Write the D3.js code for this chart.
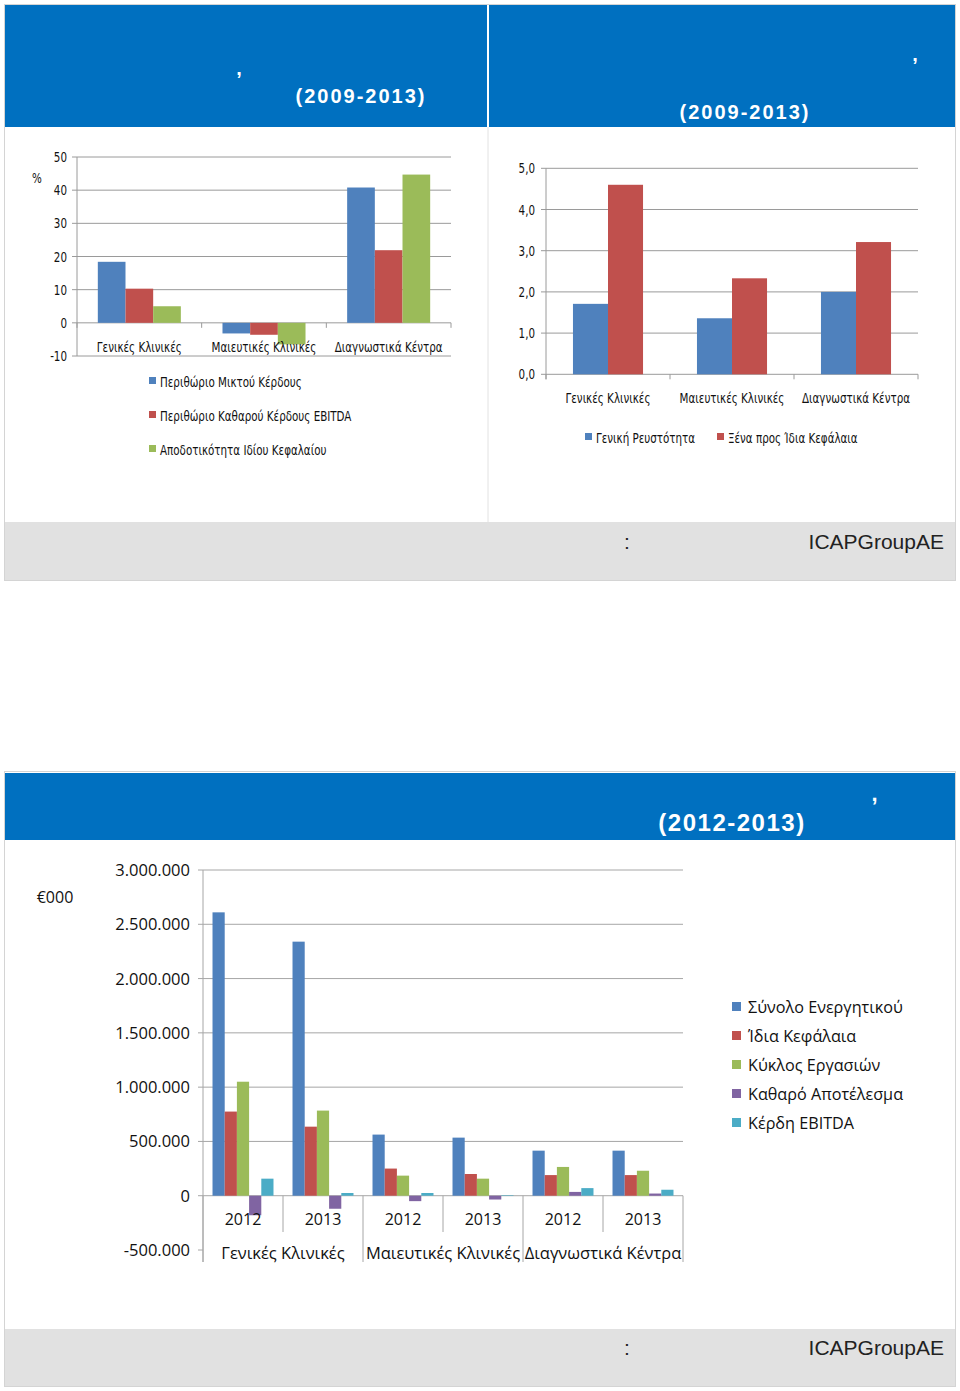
<!DOCTYPE html>
<html><head><meta charset="utf-8">
<script src="https://cdn.jsdelivr.net/npm/d3@7"></script>
<style>
body{margin:0;background:#fff;}
.narrow{font-family:"DejaVu Sans Condensed","DejaVu Sans",sans-serif;}
.os{font-family:"Open Sans","Noto Sans",sans-serif;}
</style></head>
<body>
<svg id="c" width="960" height="1391"></svg>
<script>
// ---------- DATA ----------
const categories = ["Γενικές Κλινικές","Μαιευτικές Κλινικές","Διαγνωστικά Κέντρα"];
// Chart 1 (%)
const series1 = ["Περιθώριο Μικτού Κέρδους","Περιθώριο Καθαρού Κέρδους EBITDA","Αποδοτικότητα Ιδίου Κεφαλαίου"];
const grossMargin = [18.4, -3.2, 40.8];
const ebitdaMargin = [10.3, -3.6, 21.9];
const roe = [5.0, -6.5, 44.7];
const ticks1 = [-10,0,10,20,30,40,50];
// Chart 2 (ratios)
const series2 = ["Γενική Ρευστότητα","Ξένα προς Ίδια Κεφάλαια"];
const liquidity = [1.71, 1.36, 2.0];
const debtToEquity = [4.6, 2.33, 3.21];
const ticks2 = [0,1,2,3,4,5];
const ticks2Labels = ["0,0","1,0","2,0","3,0","4,0","5,0"];
// Chart 3 (€000)
const years = ["2012","2013"];
const series3 = ["Σύνολο Ενεργητικού","Ίδια Κεφάλαια","Κύκλος Εργασιών","Καθαρό Αποτέλεσμα","Κέρδη EBITDA"];
// values per [category][year]
const totalAssets = [[2610000,2340000],[563000,535000],[415000,415000]];
const equity = [[775000,636000],[250000,200000],[190000,190000]];
const turnover = [[1050000,784000],[185000,157000],[265000,230000]];
const netResult = [[-180000,-120000],[-50000,-35000],[35000,20000]];
const ebitda = [[157000,25000],[25000,5000],[70000,55000]];
const ticks3 = [-500000,0,500000,1000000,1500000,2000000,2500000,3000000];
const ticks3Labels = ["-500.000","0","500.000","1.000.000","1.500.000","2.000.000","2.500.000","3.000.000"];

const colors = ["#4F81BD","#C0504D","#9BBB59","#8064A2","#4BACC6"];
const BLUE = "#0070C0", GRAY = "#E1E1E1", GRID = "#9a9a9a", BORDER="#d4d4d4";
const SX = 0.82;

const svg = d3.select("#c");
svg.append("rect").attr("width",960).attr("height",1391).attr("fill","#fff");

// narrow text helper (horizontally condensed)
function ntext(g,x,y,t,anchor,size){
  return g.append("text").attr("class","narrow")
    .attr("transform",`translate(${x},${y}) scale(${SX},1)`)
    .attr("text-anchor",anchor||"start").attr("font-size",size||14).attr("fill","#111").text(t);
}

// ---------- TOP FRAME ----------
svg.append("rect").attr("x",4.5).attr("y",4.5).attr("width",951).attr("height",576)
  .attr("fill","#fff").attr("stroke",BORDER);
svg.append("rect").attr("x",5).attr("y",5).attr("width",482).attr("height",122).attr("fill",BLUE);
svg.append("rect").attr("x",489).attr("y",5).attr("width",466).attr("height",122).attr("fill",BLUE);
svg.append("line").attr("x1",488).attr("x2",488).attr("y1",127).attr("y2",522).attr("stroke","#e2e2e2");
svg.append("rect").attr("x",5).attr("y",522).attr("width",950).attr("height",58).attr("fill",GRAY);

function titleText(x,y,t,anchor,size,ls){
  svg.append("text").attr("x",x).attr("y",y).attr("text-anchor",anchor||"middle")
    .attr("font-family","Liberation Sans, Arial, sans-serif").attr("font-weight","bold")
    .attr("font-size",size||20).attr("letter-spacing",ls===undefined?2:ls).attr("fill","#fff").text(t);
}
titleText(240,75,",","middle");
titleText(361,103,"(2009-2013)","middle");
titleText(916,61,",","middle");
titleText(745,119,"(2009-2013)","middle");

function footer(y){
  svg.append("text").attr("x",627).attr("y",y).attr("text-anchor","middle")
    .attr("font-family","Liberation Sans, Arial, sans-serif").attr("font-size",21).attr("fill","#222").text(":");
  svg.append("text").attr("x",944).attr("y",y).attr("text-anchor","end")
    .attr("font-family","Liberation Sans, Arial, sans-serif").attr("font-size",21).attr("fill","#222").text("ICAPGroupAE");
}
footer(549);

// ---------- CHART 1 ----------
{
  const y = d3.scaleLinear().domain([-10,50]).range([356,157]);
  const x = d3.scaleBand().domain(categories).range([77,451]).paddingInner(0.334).paddingOuter(0.167);
  const xs = d3.scaleBand().domain(series1).range([0,x.bandwidth()]);
  const data = [grossMargin, ebitdaMargin, roe];
  const g = svg.append("g");
  g.selectAll(".grid").data(ticks1).join("line")
    .attr("x1",72).attr("x2",451).attr("y1",d=>y(d)).attr("y2",d=>y(d)).attr("stroke",GRID);
  g.append("line").attr("x1",77).attr("x2",77).attr("y1",y(50)).attr("y2",y(-10)).attr("stroke",GRID);
  series1.forEach((s,si)=>{
    g.selectAll(".b"+si).data(categories).join("rect")
      .attr("x",c=>x(c)+xs(s)).attr("width",xs.bandwidth())
      .attr("y",(c,i)=>y(Math.max(0,data[si][i])))
      .attr("height",(c,i)=>Math.abs(y(data[si][i])-y(0)))
      .attr("fill",colors[si]);
  });
  const bounds=[77,77+x.step(),77+2*x.step(),451];
  g.selectAll(".ct").data(bounds).join("line").attr("x1",d=>d).attr("x2",d=>d)
    .attr("y1",y(0)).attr("y2",y(0)+5).attr("stroke",GRID);
  ticks1.forEach(d=>ntext(g,67,y(d)+5,d,"end",14));
  ntext(g,37,183,"%","middle",14);
  categories.forEach(c=>ntext(g,x(c)+x.bandwidth()/2,352,c,"middle",14));
  series1.forEach((s,i)=>{
    const yy=[382,416,450][i];
    g.append("rect").attr("x",149).attr("y",yy-5).attr("width",7).attr("height",7).attr("fill",colors[i]);
    ntext(g,160,yy+5,s,"start",14);
  });
}

// ---------- CHART 2 ----------
{
  const y = d3.scaleLinear().domain([0,5]).range([374.3,168.3]);
  const x = d3.scaleBand().domain(categories).range([546,918]).paddingInner(0.435).paddingOuter(0.2175);
  const xs = d3.scaleBand().domain(series2).range([0,x.bandwidth()]);
  const data = [liquidity, debtToEquity];
  const g = svg.append("g");
  g.selectAll(".grid").data(ticks2).join("line")
    .attr("x1",541).attr("x2",918).attr("y1",d=>y(d)).attr("y2",d=>y(d)).attr("stroke",GRID);
  g.append("line").attr("x1",546).attr("x2",546).attr("y1",y(5)).attr("y2",y(0)+5).attr("stroke",GRID);
  series2.forEach((s,si)=>{
    g.selectAll(".b"+si).data(categories).join("rect")
      .attr("x",c=>x(c)+xs(s)).attr("width",xs.bandwidth())
      .attr("y",(c,i)=>y(data[si][i])).attr("height",(c,i)=>y(0)-y(data[si][i]))
      .attr("fill",colors[si]);
  });
  const bounds=[546,546+x.step(),546+2*x.step(),918];
  g.selectAll(".ct").data(bounds).join("line").attr("x1",d=>d).attr("x2",d=>d)
    .attr("y1",y(0)).attr("y2",y(0)+5).attr("stroke",GRID);
  ticks2.forEach((d,i)=>ntext(g,535,y(d)+5,ticks2Labels[i],"end",14));
  categories.forEach(c=>ntext(g,x(c)+x.bandwidth()/2,403,c,"middle",14));
  const lx=[585,717], tx=[596,728];
  series2.forEach((s,i)=>{
    g.append("rect").attr("x",lx[i]).attr("y",433).attr("width",7).attr("height",7).attr("fill",colors[i]);
    ntext(g,tx[i],443,s,"start",14);
  });
}

// ---------- BOTTOM FRAME ----------
svg.append("rect").attr("x",4.5).attr("y",771.5).attr("width",951).attr("height",615)
  .attr("fill","#fff").attr("stroke",BORDER);
svg.append("rect").attr("x",5).attr("y",773).attr("width",950).attr("height",67).attr("fill",BLUE);
svg.append("rect").attr("x",5).attr("y",1329).attr("width",950).attr("height",57).attr("fill",GRAY);
titleText(875,801,",","middle",22,1);
titleText(732,831,"(2012-2013)","middle",24,1.5);
footer(1355);

// ---------- CHART 3 ----------
{
  const y = d3.scaleLinear().domain([-500000,3000000]).range([1250,870]);
  const x = d3.scaleBand().domain(categories).range([203,683]);
  const xy = d3.scaleBand().domain(years).range([0,x.bandwidth()]);
  const xs = d3.scaleBand().domain(series3).range([0,xy.bandwidth()]).paddingOuter(0.78);
  const data = [totalAssets,equity,turnover,netResult,ebitda];
  const g = svg.append("g");
  g.selectAll(".grid").data(ticks3.filter(d=>d>-500000)).join("line")
    .attr("x1",198).attr("x2",683).attr("y1",d=>y(d)).attr("y2",d=>y(d)).attr("stroke","#a6a6a6");
  g.append("line").attr("x1",198).attr("x2",203).attr("y1",y(-500000)).attr("y2",y(-500000)).attr("stroke","#a6a6a6");
  g.append("line").attr("x1",203).attr("x2",203).attr("y1",y(3000000)).attr("y2",1262).attr("stroke","#a6a6a6");
  const flat=[];
  categories.forEach((c,ci)=>years.forEach((yr,yi)=>series3.forEach((s,si)=>flat.push({c,ci,yr,yi,s,si,v:data[si][ci][yi]}))));
  g.selectAll(".bar").data(flat).join("rect")
    .attr("x",d=>x(d.c)+xy(d.yr)+xs(d.s)).attr("width",xs.bandwidth())
    .attr("y",d=>y(Math.max(0,d.v))).attr("height",d=>Math.abs(y(d.v)-y(0)))
    .attr("fill",d=>colors[d.si]);
  categories.forEach(c=>{
    g.append("line").attr("x1",x(c)+xy.bandwidth()).attr("x2",x(c)+xy.bandwidth())
      .attr("y1",y(0)).attr("y2",1232).attr("stroke","#a6a6a6");
  });
  [203,363,523,683].forEach(v=>{
    g.append("line").attr("x1",v).attr("x2",v).attr("y1",y(0)).attr("y2",1262).attr("stroke","#a6a6a6");
  });
  g.selectAll(".yl").data(ticks3).join("text").attr("class","os")
    .attr("x",190).attr("y",d=>y(d)+6).attr("text-anchor","end").attr("font-size",16.5).attr("fill","#111")
    .text((d,i)=>ticks3Labels[i]);
  categories.forEach(c=>years.forEach(yr=>{
    g.append("text").attr("class","os").attr("x",x(c)+xy(yr)+xy.bandwidth()/2).attr("y",1225)
      .attr("text-anchor","middle").attr("font-size",16).attr("fill","#111").text(yr);
  }));
  g.selectAll(".cl").data(categories).join("text").attr("class","os")
    .attr("x",c=>x(c)+x.bandwidth()/2).attr("y",1259).attr("text-anchor","middle").attr("font-size",16.5).attr("fill","#111").text(c=>c);
  g.append("text").attr("class","os").attr("x",55).attr("y",903).attr("text-anchor","middle").attr("font-size",16).attr("fill","#111").text("€000");
  series3.forEach((s,i)=>{
    const yy=1007+i*29;
    g.append("rect").attr("x",732).attr("y",yy-5).attr("width",9).attr("height",9).attr("fill",colors[i]);
    g.append("text").attr("class","os").attr("x",748).attr("y",yy+6).attr("font-size",16.2).attr("fill","#111").text(s);
  });
}
</script>
</body></html>
